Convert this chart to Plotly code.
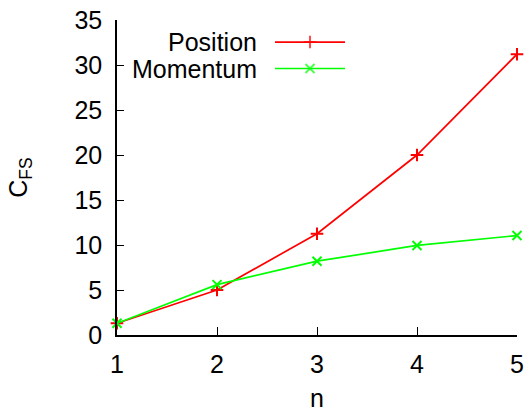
import plotly.graph_objects as go

n_values = [1, 2, 3, 4, 5]
position = [1.3, 5.0, 11.25, 20.0, 31.2]
momentum = [1.3, 5.6, 8.2, 9.95, 11.05]
series_names = ["Position", "Momentum"]
series_colors = ["#ff0000", "#00ff00"]
series_symbols = ["cross-thin", "x-thin"]
y_ticks = [0, 5, 10, 15, 20, 25, 30, 35]
x_ticks = [1, 2, 3, 4, 5]

FONT = "Liberation Sans, Arial, sans-serif"

fig = go.Figure()
for name, vals, col, sym in zip(series_names, [position, momentum], series_colors, series_symbols):
    fig.add_trace(go.Scatter(
        x=n_values, y=vals, mode="lines+markers", name=name,
        line=dict(color=col, width=1.7),
        marker=dict(symbol=sym, size=9, line=dict(color=col, width=2)),
        cliponaxis=False, showlegend=False,
    ))

# custom legend (text left of sample, gnuplot style)
leg_rows = [0.930, 0.846]
for name, col, sym, yy in zip(series_names, series_colors, series_symbols, leg_rows):
    fig.add_annotation(xref="paper", yref="paper", x=0.352, y=yy, text=name,
                       showarrow=False, xanchor="right", yanchor="middle",
                       borderpad=0,
                       font=dict(family=FONT, size=25, color="black"))
    fig.add_trace(go.Scatter(
        x=[0.395, 0.4825, 0.57], y=[yy, yy, yy], xaxis="x2", yaxis="y2",
        mode="lines+markers", line=dict(color=col, width=1.7),
        marker=dict(symbol=sym, size=[0, 9, 0], line=dict(color=col, width=2)),
        showlegend=False, hoverinfo="skip", cliponaxis=False,
    ))

# x-axis title as annotation near the bottom edge, as in the reference
fig.add_annotation(xref="paper", yref="paper", x=0.5, y=-0.2, text="n",
                   showarrow=False, xanchor="center", yanchor="middle",
                   borderpad=0, font=dict(family=FONT, size=25, color="black"))

fig.update_layout(
    width=531, height=412,
    margin=dict(l=117, r=14, t=20, b=77),
    paper_bgcolor="white", plot_bgcolor="white",
    font=dict(family=FONT, size=25, color="black"),
    xaxis=dict(range=[1, 5], tickvals=x_ticks, ticks="inside", ticklen=8,
               tickwidth=1.2, tickcolor="black", showline=True, linecolor="black",
               linewidth=1.5, showgrid=False, zeroline=False, mirror=False,
               ticklabelstandoff=6, automargin=False),
    yaxis=dict(range=[0, 35], tickvals=y_ticks, ticks="inside", ticklen=7,
               tickwidth=1.2, tickcolor="black", showline=True, linecolor="black",
               linewidth=1.5, showgrid=False, zeroline=False, mirror=False,
               ticklabelstandoff=8, automargin=False,
               title=dict(text="C<sub>FS</sub>", standoff=40, font=dict(size=25))),
    xaxis2=dict(range=[0, 1], overlaying="x", visible=False, fixedrange=True),
    yaxis2=dict(range=[0, 1], overlaying="y", visible=False, fixedrange=True),
)

fig.write_html("out.html", config={"displayModeBar": False},
               post_script="document.body.style.margin='0';document.body.style.overflow='hidden';")
